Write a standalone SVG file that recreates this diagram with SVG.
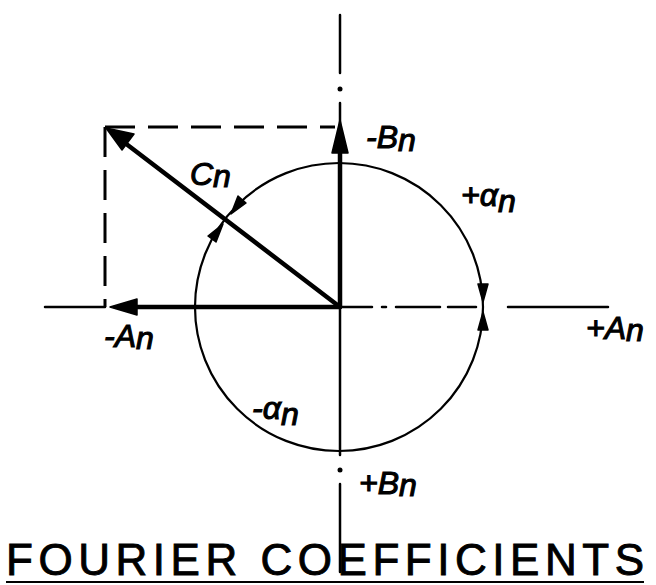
<svg xmlns="http://www.w3.org/2000/svg" width="656" height="585" viewBox="0 0 656 585">
<style>
.thin{stroke:#000;stroke-width:2.5;fill:none;stroke-linecap:round}
.thick{stroke:#000;stroke-width:4.5;fill:none;stroke-linecap:round}
.circ{stroke:#000;stroke-width:2.2;fill:none}
.dash{stroke:#000;stroke-width:3;fill:none;stroke-dasharray:30 13}
.head{fill:#000;stroke:#000;stroke-width:1.5;stroke-linejoin:round}
.lbl{font-family:"Liberation Sans",Arial,sans-serif;font-style:italic;font-size:32px;fill:#000;stroke:#000;stroke-width:1.1}
.title{font-family:"Liberation Sans",Arial,sans-serif;font-size:44px;fill:#000;stroke:#000;stroke-width:0.9}
</style>
<rect width="656" height="585" fill="#fff"/>
<g id="axes">
  <line class="thin" x1="340" y1="15" x2="340" y2="73"/>
  <circle cx="340" cy="89" r="2.5" fill="#000"/>
  <line class="thin" x1="340" y1="103" x2="340" y2="125"/>
  <line class="thin" x1="340" y1="307" x2="340" y2="455"/>
  <circle cx="340" cy="470" r="2.5" fill="#000"/>
  <line class="thin" x1="340" y1="484" x2="340" y2="572"/>
  <line class="thin" x1="45" y1="307" x2="105" y2="307"/>
  <line class="thin" x1="342" y1="307" x2="372" y2="307"/>
  <line class="thin" x1="382" y1="307" x2="386" y2="307"/>
  <line class="thin" x1="396" y1="307" x2="440" y2="307"/>
  <line class="thin" x1="448" y1="307" x2="476" y2="307"/>
  <line class="thin" x1="508" y1="307" x2="608" y2="307"/>
</g>
<g id="circle">
  <circle class="circ" cx="339" cy="307" r="144"/>
</g>
<g id="rectangle">
  <line class="dash" x1="105" y1="127" x2="335" y2="127"/>
  <line class="dash" x1="105" y1="127" x2="105" y2="307"/>
</g>
<g id="connectors">
  <line class="thick" x1="340" y1="307" x2="340" y2="135"/>
  <polygon class="head" points="340,120 332,153 348,153"/>
  <line class="thick" x1="340" y1="307" x2="130" y2="307"/>
  <polygon class="head" points="110,307 137,299 137,315"/>
  <line class="thick" x1="340" y1="307" x2="125" y2="143"/>
  <polygon class="head" points="106,128 134,134 122,150"/>
  <polygon class="head" points="483,302 478,284 488,284"/>
  <polygon class="head" points="483,312 478,330 488,330"/>
  <polygon class="head" points="231,214 238,196 246,203"/>
  <polygon class="head" points="223,224 208,236 216,242"/>
</g>
<g id="labels">
  <text class="lbl" x="366" y="148">-B<tspan dy="3">n</tspan></text>
  <text class="lbl" x="190" y="185">C<tspan dy="2">n</tspan></text>
  <text class="lbl" x="461" y="206">+α<tspan dy="6">n</tspan></text>
  <text class="lbl" x="104" y="347">-A<tspan dy="2">n</tspan></text>
  <text class="lbl" x="586" y="339">+A<tspan dy="2">n</tspan></text>
  <text class="lbl" x="252" y="419">-α<tspan dy="6">n</tspan></text>
  <text class="lbl" x="359" y="494">+B<tspan dy="2">n</tspan></text>
</g>
<g id="title">
  <text class="title" x="6" y="575" textLength="638" lengthAdjust="spacing">FOURIER COEFFICIENTS</text>
  <line x1="6" y1="582" x2="644" y2="582" stroke="#000" stroke-width="2"/>
</g>
</svg>
